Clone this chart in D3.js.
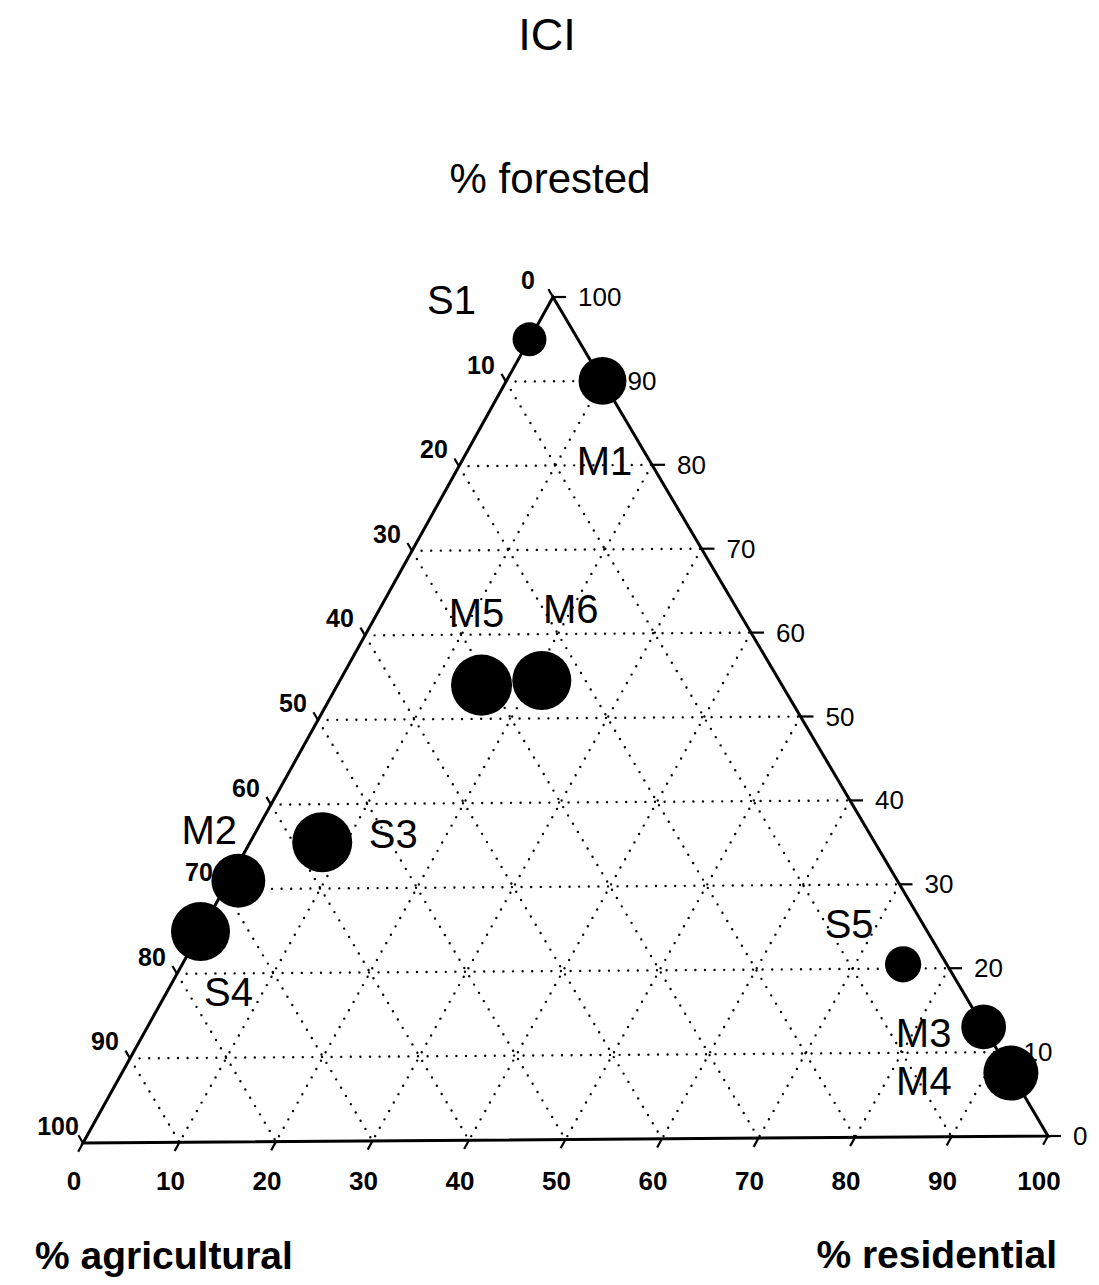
<!DOCTYPE html>
<html>
<head>
<meta charset="utf-8">
<script src="https://cdn.jsdelivr.net/npm/d3@7"></script>
<style>
  html, body { margin: 0; padding: 0; background: #fff; }
  svg { display: block; font-family: "Liberation Sans", Arial, sans-serif; }
</style>
</head>
<body>
<svg id="chart" width="1099" height="1285"></svg>
<script>
// ---- data ----
const sites        = ["S1", "M1", "M5", "M6", "S3", "M2", "S4", "S5", "M3", "M4"];
const forested     = [95,   90,   54,   54.5, 35.5, 31,   25,   20.5, 13,   7.5];
const agricultural = [5,    0,    31,   24.5, 57,   68,   75,   4.5,  0,    0];
const residential  = [0,    10,   15,   21,   7.5,  1,    0,    75,   87,   92.5];
const iciScore     = [28,   56,   91,   85,   88,   71,   85,   32,   49,   74];
const tickValues   = [0, 10, 20, 30, 40, 50, 60, 70, 80, 90, 100];
const gridValues   = [10, 20, 30, 40, 50, 60, 70, 80, 90];
const title = "ICI";
const axisTitles = { forested: "% forested", agricultural: "% agricultural", residential: "% residential" };

// ---- layout (not data) ----
const labelDx = [-78, 2, -5, 29, 71, -29, 28, -54, -60, -87];
const labelDy = [-39, 80, -72, -71, -8, -51, 60, -40, 6, 8];
const V = { A: [553, 297], L: [83, 1143], R: [1048, 1136] }; // forested, agricultural, residential vertices

const frac = d3.scaleLinear().domain([0, 100]).range([0, 1]);
const rScale = d3.scaleSqrt().domain([0, 100]).range([0, 32]);

function tern(f, a, r) {
  const F = frac(f), Ag = frac(a), Rs = frac(r);
  return [F * V.A[0] + Ag * V.L[0] + Rs * V.R[0], F * V.A[1] + Ag * V.L[1] + Rs * V.R[1]];
}
function unit(p, q) { const dx = q[0] - p[0], dy = q[1] - p[1], n = Math.hypot(dx, dy); return [dx / n, dy / n]; }

const svg = d3.select("#chart");
const font = '"Liberation Sans", Arial, sans-serif';

// ---- grid ----
const grid = svg.append("g").attr("stroke", "#000").attr("stroke-width", 2.4)
  .attr("stroke-linecap", "round").attr("stroke-dasharray", "0 9.6").attr("fill", "none");
const line = d3.line();
gridValues.forEach(k => {
  grid.append("path").attr("d", line([tern(k, 100 - k, 0), tern(k, 0, 100 - k)]));
  grid.append("path").attr("d", line([tern(100 - k, k, 0), tern(0, k, 100 - k)]));
  grid.append("path").attr("d", line([tern(100 - k, 0, k), tern(0, 100 - k, k)]));
});

// ---- triangle ----
svg.append("path").attr("d", line([V.A, V.L, V.R]) + "Z")
  .attr("fill", "none").attr("stroke", "#000").attr("stroke-width", 3).attr("stroke-linejoin", "miter");

// ---- ticks ----
const ticks = svg.append("g").attr("stroke", "#000").attr("stroke-width", 2.2);
const dirLeft = unit(V.R, V.A);    // continuation of constant-agricultural lines
const dirBottom = unit(V.A, V.L);  // continuation of constant-residential lines
tickValues.forEach(k => {
  const pR = tern(k, 0, 100 - k);
  ticks.append("line").attr("x1", pR[0]).attr("y1", pR[1]).attr("x2", pR[0] + 13).attr("y2", pR[1]);
  const pL = tern(100 - k, k, 0);
  ticks.append("line").attr("x1", pL[0]).attr("y1", pL[1]).attr("x2", pL[0] + dirLeft[0] * 9).attr("y2", pL[1] + dirLeft[1] * 9);
  const pB = tern(0, 100 - k, k);
  ticks.append("line").attr("x1", pB[0]).attr("y1", pB[1]).attr("x2", pB[0] + dirBottom[0] * 10).attr("y2", pB[1] + dirBottom[1] * 10);
});

// ---- tick labels ----
const tl = svg.append("g").attr("fill", "#000").attr("font-family", font);
tickValues.forEach(k => {
  const pR = tern(k, 0, 100 - k);
  tl.append("text").attr("x", pR[0] + 25).attr("y", pR[1]).attr("dominant-baseline", "central")
    .attr("font-size", 26).text(k);
  const pL = tern(100 - k, k, 0);
  tl.append("text").attr("x", pL[0] - 25).attr("y", pL[1] - 17).attr("dominant-baseline", "central")
    .attr("text-anchor", "middle").attr("font-size", 25).attr("font-weight", "bold").text(k);
  const pB = tern(0, 100 - k, k);
  tl.append("text").attr("x", pB[0] - 9).attr("y", 1190).attr("text-anchor", "middle")
    .attr("font-size", 26).attr("font-weight", "bold").text(k);
});

// ---- points ----
const pts = sites.map((s, i) => ({ name: s, p: tern(forested[i], agricultural[i], residential[i]), r: rScale(iciScore[i]), i }));
svg.append("g").selectAll("circle").data(pts).join("circle")
  .attr("cx", d => d.p[0]).attr("cy", d => d.p[1]).attr("r", d => d.r).attr("fill", "#000");

svg.append("g").selectAll("text").data(pts).join("text")
  .attr("x", d => d.p[0] + labelDx[d.i]).attr("y", d => d.p[1] + labelDy[d.i])
  .attr("text-anchor", "middle").attr("dominant-baseline", "central")
  .attr("font-family", font).attr("font-size", 40).attr("fill", "#000").text(d => d.name);

// ---- titles ----
svg.append("text").attr("x", 547).attr("y", 50).attr("text-anchor", "middle")
  .attr("font-family", font).attr("font-size", 45).text(title);
svg.append("text").attr("x", 550).attr("y", 193).attr("text-anchor", "middle")
  .attr("font-family", font).attr("font-size", 42).text(axisTitles.forested);
svg.append("text").attr("x", 35).attr("y", 1269).attr("text-anchor", "start")
  .attr("font-family", font).attr("font-size", 39).attr("font-weight", "bold").text(axisTitles.agricultural);
svg.append("text").attr("x", 1057).attr("y", 1268).attr("text-anchor", "end")
  .attr("font-family", font).attr("font-size", 39).attr("font-weight", "bold").text(axisTitles.residential);
</script>
</body>
</html>
